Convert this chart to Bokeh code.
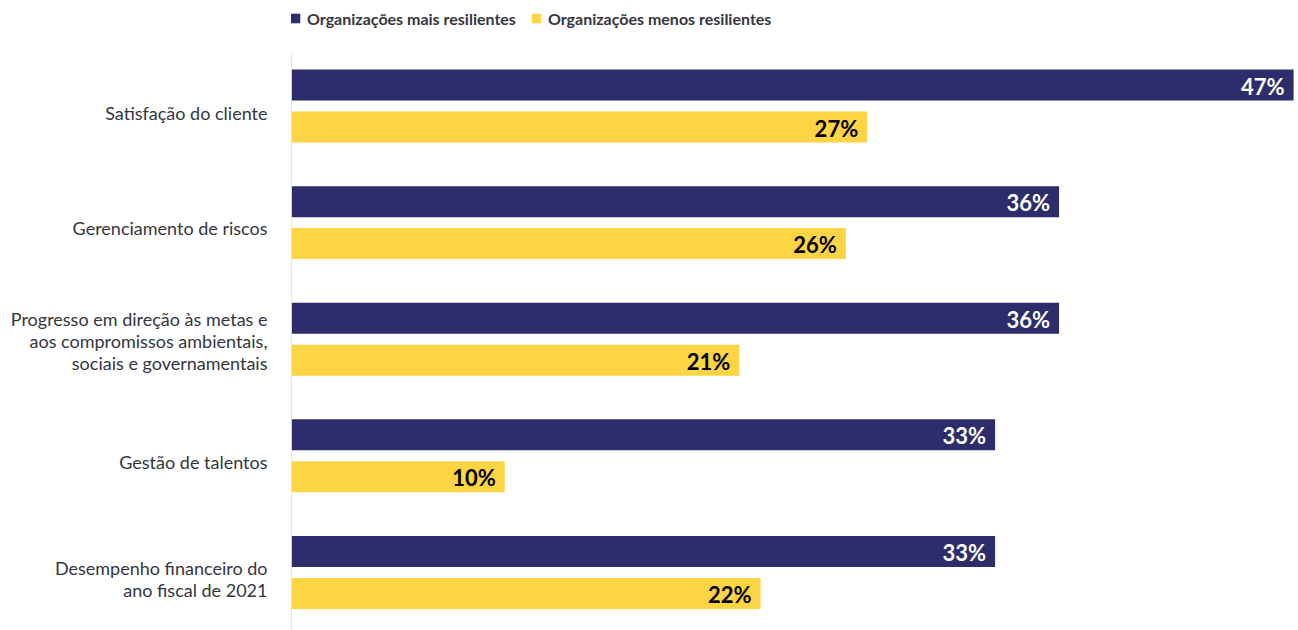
from bokeh.plotting import figure
from bokeh.models import ColumnDataSource, Range1d, FixedTicker, Legend, LegendItem
from bokeh.core.properties import value
from bokeh.embed import file_html
from bokeh.resources import INLINE

categories = [
    "Satisfação do cliente",
    "Gerenciamento de riscos",
    "Progresso em direção às metas e\naos compromissos ambientais,\nsociais e governamentais",
    "Gestão de talentos",
    "Desempenho financeiro do\nano fiscal de 2021",
]
series_names = ["Organizações mais resilientes", "Organizações menos resilientes"]
mais = [47, 36, 36, 33, 33]
menos = [27, 26, 21, 10, 22]

NAVY = "#2e2d6b"
YELLOW = "#fdd444"
TEXT = "#363640"
FONT = "Lato"

idx = list(range(len(categories)))
label_shift = [0.064, 0.05, 0.013, 0.053, 0.055]
off = 0.18
hgt = 0.266

p = figure(width=1298, height=630, output_backend="svg", toolbar_location=None,
           x_range=Range1d(0, 47.23), y_range=Range1d(4.498, -0.905),
           min_border_left=291, min_border_right=0, min_border_top=0, min_border_bottom=0)
p.outline_line_color = None
p.grid.visible = False
p.xaxis.visible = False
p.background_fill_color = None
p.border_fill_color = None

src_a = ColumnDataSource(dict(y=[i - off for i in idx], v=mais,
                              lbl=[f"{v}%" for v in mais]))
src_b = ColumnDataSource(dict(y=[i + off for i in idx], v=menos,
                              lbl=[f"{v}%" for v in menos]))

ra = p.hbar(y="y", right="v", left=0, height=hgt, source=src_a, fill_color=NAVY, line_color=None)
rb = p.hbar(y="y", right="v", left=0, height=hgt, source=src_b, fill_color=YELLOW, line_color=None)

p.text(x="v", y="y", text="lbl", source=src_a, text_align="right", text_baseline="middle",
       x_offset=-9, y_offset=1, text_color="white", text_font=value(FONT), text_font_style="bold",
       text_font_size="22px")
p.text(x="v", y="y", text="lbl", source=src_b, text_align="right", text_baseline="middle",
       x_offset=-9, y_offset=1, text_color="black", text_font=value(FONT), text_font_style="bold",
       text_font_size="22px")

# vertical baseline
p.segment(x0=[0], y0=[-0.459], x1=[0], y1=[4.498], line_color="#cfcfcf", line_width=1)

ticks = [i + s for i, s in zip(idx, label_shift)]
ax = p.yaxis[0]
ax.ticker = FixedTicker(ticks=ticks)
ax.major_label_overrides = {t: c for t, c in zip(ticks, categories)}
ax.axis_line_color = None
ax.major_tick_line_color = None
ax.minor_tick_line_color = None
ax.major_label_standoff = 18
ax.major_label_text_font = FONT
ax.major_label_text_font_size = "18px"
ax.major_label_text_color = TEXT
ax.major_label_text_line_height = 1.0

legend = Legend(items=[LegendItem(label=series_names[0], renderers=[ra]),
                       LegendItem(label=series_names[1], renderers=[rb])],
                orientation="horizontal", location=(-2, 602))
legend.margin = 0
legend.padding = 0
legend.spacing = 14
legend.label_standoff = 6
legend.glyph_width = 12
legend.glyph_height = 12
legend.label_text_font = FONT
legend.label_text_font_style = "bold"
legend.label_text_font_size = "16px"
legend.label_text_color = TEXT
legend.background_fill_alpha = 0
legend.border_line_color = None
legend.label_height = 20
p.add_layout(legend)

open("out.html", "w").write(file_html(p, INLINE))
